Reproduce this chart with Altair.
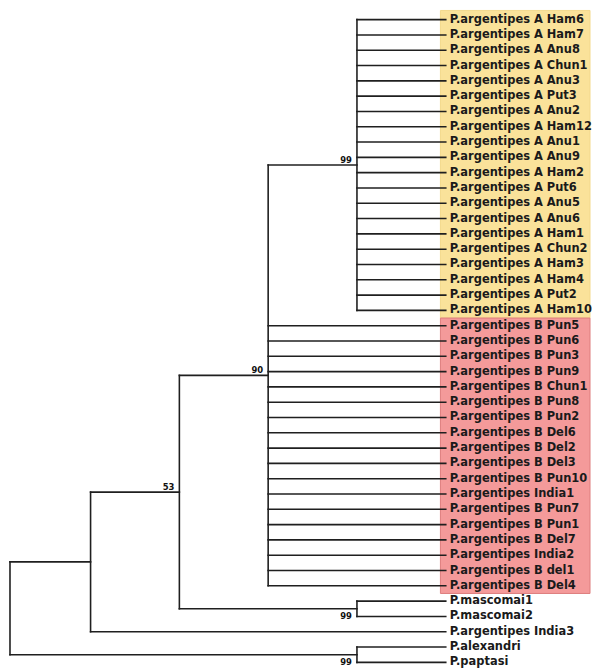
import altair as alt
import pandas as pd

# ---- data -------------------------------------------------------------
leaves_A = ["P.argentipes A Ham6", "P.argentipes A Ham7", "P.argentipes A Anu8",
            "P.argentipes A Chun1", "P.argentipes A Anu3", "P.argentipes A Put3",
            "P.argentipes A Anu2", "P.argentipes A Ham12", "P.argentipes A Anu1",
            "P.argentipes A Anu9", "P.argentipes A Ham2", "P.argentipes A Put6",
            "P.argentipes A Anu5", "P.argentipes A Anu6", "P.argentipes A Ham1",
            "P.argentipes A Chun2", "P.argentipes A Ham3", "P.argentipes A Ham4",
            "P.argentipes A Put2", "P.argentipes A Ham10"]
leaves_B = ["P.argentipes B Pun5", "P.argentipes B Pun6", "P.argentipes B Pun3",
            "P.argentipes B Pun9", "P.argentipes B Chun1", "P.argentipes B Pun8",
            "P.argentipes B Pun2", "P.argentipes B Del6", "P.argentipes B Del2",
            "P.argentipes B Del3", "P.argentipes B Pun10", "P.argentipes India1",
            "P.argentipes B Pun7", "P.argentipes B Pun1", "P.argentipes B Del7",
            "P.argentipes India2", "P.argentipes B del1", "P.argentipes B Del4"]
leaves_mas = ["P.mascomai1", "P.mascomai2"]
leaf_india3 = "P.argentipes India3"
leaves_out = ["P.alexandri", "P.paptasi"]

node_names = ["root", "ingroup", "n53", "n90", "A", "mas", "out"]
node_levels = [0, 1, 2, 3, 4, 4, 4]
node_support = [None, None, 53, 90, 99, 99, 99]
leaf_level = 5

children = {
    "root": ["ingroup", "out"],
    "ingroup": ["n53", leaf_india3],
    "n53": ["n90", "mas"],
    "n90": ["A"] + leaves_B,
    "A": leaves_A,
    "mas": leaves_mas,
    "out": leaves_out,
}
below_labels = ["mas", "out"]

# ---- tree layout (cladogram) ----------------------------------------
level = dict(zip(node_names, node_levels))
support = dict(zip(node_names, node_support))
leaf_order = []
ypos = {}


def layout(n):
    if n not in children:
        ypos[n] = len(leaf_order)
        leaf_order.append(n)
        return ypos[n]
    ys = [layout(c) for c in children[n]]
    ypos[n] = (ys[0] + ys[-1]) / 2
    return ypos[n]


layout("root")


def xof(n):
    return level.get(n, leaf_level)


segs = []
for n, ch in children.items():
    segs.append(dict(x=xof(n), x2=xof(n), y=ypos[ch[0]], y2=ypos[ch[-1]]))
    for c in ch:
        segs.append(dict(x=xof(n), x2=xof(c), y=ypos[c], y2=ypos[c]))
seg_df = pd.DataFrame(segs)

leaf_df = pd.DataFrame({"name": leaf_order, "x": leaf_level,
                        "y": [ypos[l] for l in leaf_order]})

sup_rows = [dict(node=n, x=level[n], y=ypos[n], s=str(support[n]),
                 below=n in below_labels)
            for n in node_names if support[n] is not None]
sup_df = pd.DataFrame(sup_rows)

nA, nB = len(leaves_A), len(leaves_B)
box_df = pd.DataFrame({
    "grp": ["A", "B"],
    "y": [-0.6, nA - 0.5],
    "y2": [nA - 0.5, nA + nB - 0.5],
    "x": [leaf_level - 0.06, leaf_level - 0.06],
})

# ---- chart -------------------------------------------------------------
W, H = 584, 655
xs = alt.Scale(domain=[0, 1, 5], range=[1, 82, 439])
ys = alt.Scale(domain=[0, len(leaf_order) - 1], range=[4, 650])

boxes = alt.Chart(box_df).mark_rect(strokeWidth=1).encode(
    x=alt.X("x:Q", scale=xs, axis=None),
    x2=alt.value(W),
    y=alt.Y("y:Q", scale=ys, axis=None),
    y2="y2:Q",
    fill=alt.Color("grp:N", scale=alt.Scale(domain=["A", "B"], range=["#FAE29A", "#F49A9A"]), legend=None),
    stroke=alt.Color("grp:N", scale=alt.Scale(domain=["A", "B"], range=["#F3D98C", "#DE7E7E"]), legend=None),
)

rules = alt.Chart(seg_df).mark_rule(color="#1f1f1f", strokeWidth=1.6, strokeCap="square").encode(
    x=alt.X("x:Q", scale=xs, axis=None),
    x2="x2:Q",
    y=alt.Y("y:Q", scale=ys, axis=None),
    y2="y2:Q",
)

leaf_text = alt.Chart(leaf_df).mark_text(
    align="left", baseline="middle", dx=4, font="DejaVu Sans", fontWeight="bold",
    fontSize=11.5, color="#1a1a1a"
).encode(
    x=alt.X("x:Q", scale=xs, axis=None),
    y=alt.Y("y:Q", scale=ys, axis=None),
    text="name:N",
)

sup_above = alt.Chart(sup_df).transform_filter("!datum.below").mark_text(
    align="right", baseline="alphabetic", dx=-5, dy=-2.5, font="DejaVu Sans",
    fontWeight="bold", fontSize=8.5, color="#111"
).encode(
    x=alt.X("x:Q", scale=xs, axis=None),
    y=alt.Y("y:Q", scale=ys, axis=None),
    text="s:N",
)

sup_below = alt.Chart(sup_df).transform_filter("datum.below").mark_text(
    align="right", baseline="top", dx=-5, dy=3, font="DejaVu Sans",
    fontWeight="bold", fontSize=8.5, color="#111"
).encode(
    x=alt.X("x:Q", scale=xs, axis=None),
    y=alt.Y("y:Q", scale=ys, axis=None),
    text="s:N",
)

chart = alt.layer(boxes, rules, leaf_text, sup_above, sup_below).properties(
    width=W, height=H, padding=0, background="white"
).configure_view(stroke=None)

chart.save("out.html", embed_options={"renderer": "svg", "actions": False})
